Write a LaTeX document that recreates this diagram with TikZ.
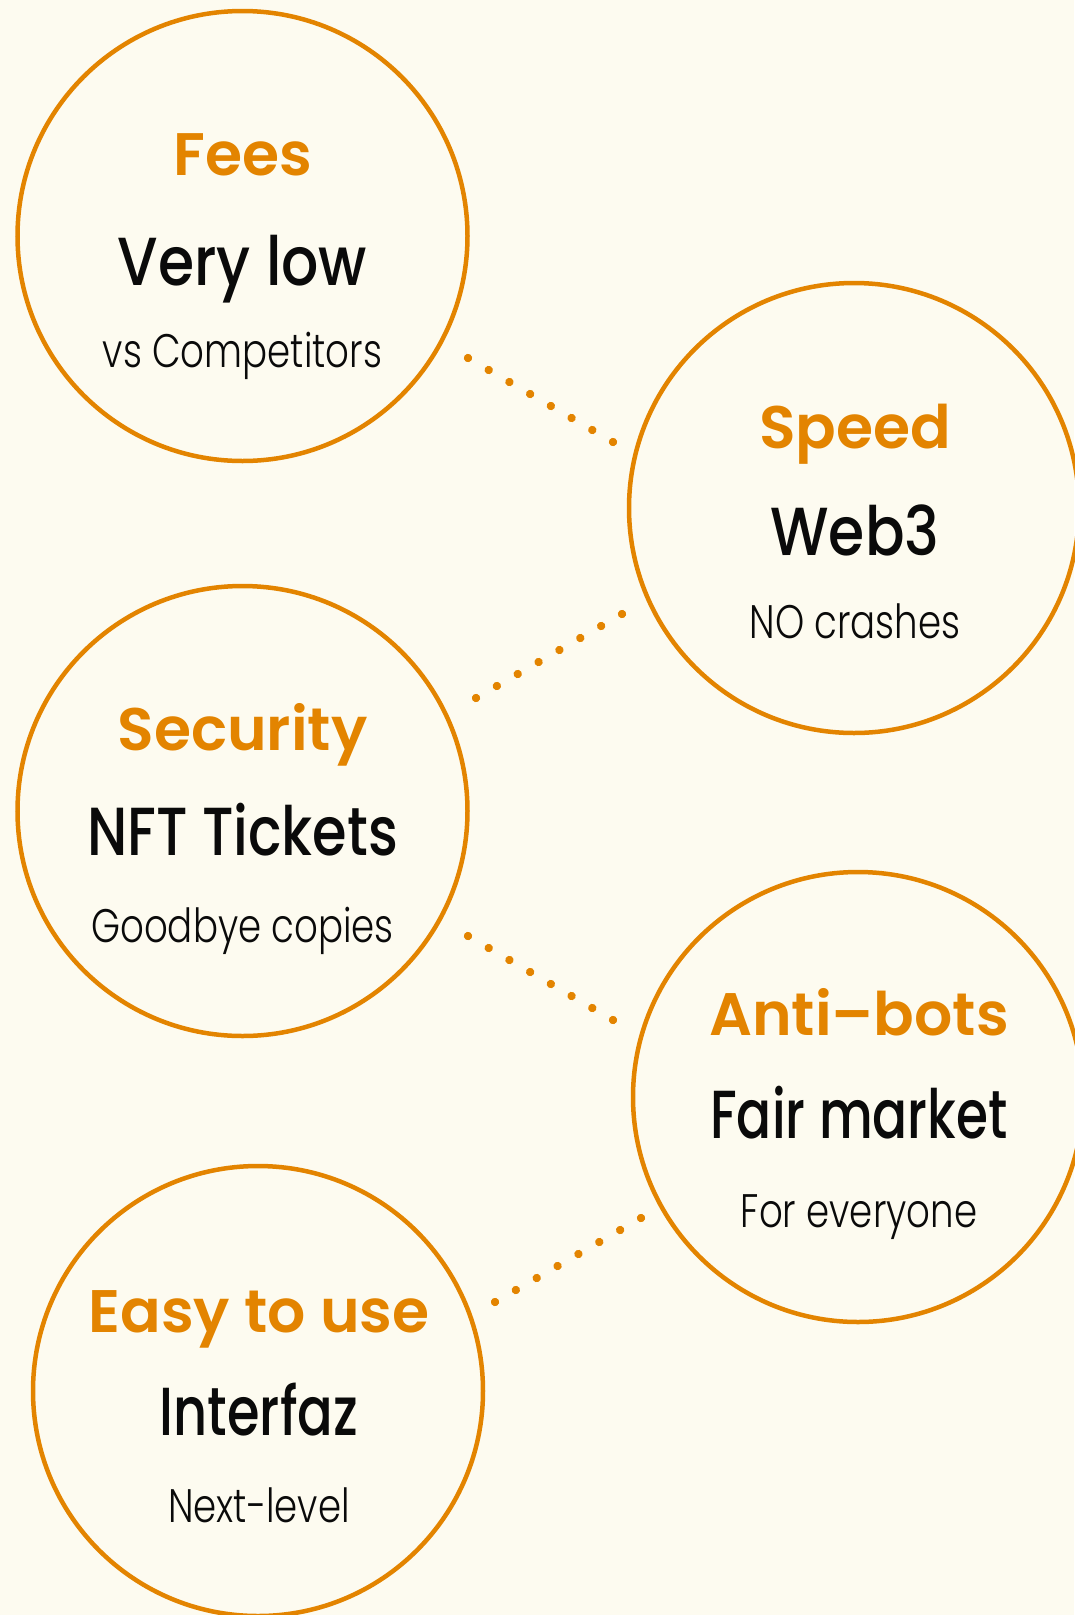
\documentclass[tikz,border=0pt]{standalone}
\usepackage{fontspec}
\setmainfont{Poppins}
\newfontfamily\headf{Poppins SemiBold}
\newfontfamily\midf{Poppins Medium}
\newfontfamily\smallf{Poppins Light}
\usetikzlibrary{decorations.markings}
\definecolor{orng}{HTML}{E38400}
\definecolor{bgc}{HTML}{FDFBF0}
\definecolor{ink}{HTML}{0A0A0A}
\tikzset{
  bubble/.style={circle, draw=orng, line width=4.5pt, minimum size=450pt, inner sep=0pt},
  headtxt/.style={anchor=base, inner sep=0pt, text=orng, font=\headf\fontsize{60}{60}\selectfont},
  midtxt/.style={anchor=base, inner sep=0pt, text=ink, xscale=0.86, font=\midf\fontsize{68}{68}\selectfont},
  smalltxt/.style={anchor=base, inner sep=0pt, text=ink, xscale=0.79, font=\smallf\fontsize{47}{47}\selectfont},
  dotline/.style={decorate, decoration={markings,
      mark=between positions 0 and 1 step 0.14285 with {\fill[orng] (0,0) circle (4.2pt);}}}
}
\begin{document}
\begin{tikzpicture}[x=1pt,y=-1pt]
\fill[bgc] (0,0) rectangle (1074,1615);
\useasboundingbox (0,0) rectangle (1074,1615);

% circles
\node[bubble] (fees) at (242.5,236) {};
\node[bubble] (speed) at (854,508) {};
\node[bubble] (secu) at (242.5,811) {};
\node[bubble] (anti) at (858,1097) {};
\node[bubble] (easy) at (258,1391) {};

% texts
\node[headtxt] (feesH) at (242.5,175) {Fees};
\node[midtxt] (feesM) at (242.5,285) {Very low};
\node[smalltxt] (feesS) at (242.5,367) {vs Competitors};

\node[headtxt] (speedH) at (855,448) {Speed};
\node[midtxt] (speedM) at (855,555) {Web3};
\node[smalltxt] (speedS) at (855,638) {NO crashes};

\node[headtxt] (secuH) at (242.5,750) {Security};
\node[midtxt, xscale=0.955] (secuM) at (242.5,855) {NFT Tickets};
\node[smalltxt] (secuS) at (242.5,942) {Goodbye copies};

\node[headtxt] (antiH) at (859,1035) {Anti–bots};
\node[midtxt, xscale=0.885] (antiM) at (859,1138) {Fair market};
\node[smalltxt] (antiS) at (859,1227) {For everyone};

\node[headtxt] (easyH) at (259,1332) {Easy to use};
\node[midtxt, xscale=0.9] (easyM) at (259,1435) {Interfaz};
\node[smalltxt] (easyS) at (259,1522) {Next-level};

% dotted connectors
\coordinate (c1a) at (468,358);  \coordinate (c1b) at (613,442);
\coordinate (c2a) at (622,614);  \coordinate (c2b) at (476,698);
\coordinate (c3a) at (468,936);  \coordinate (c3b) at (613,1020);
\coordinate (c4a) at (641,1218); \coordinate (c4b) at (495,1302);
\path[dotline] (c1a) -- (c1b);
\path[dotline] (c2a) -- (c2b);
\path[dotline] (c3a) -- (c3b);
\path[dotline] (c4a) -- (c4b);
\end{tikzpicture}
\end{document}
